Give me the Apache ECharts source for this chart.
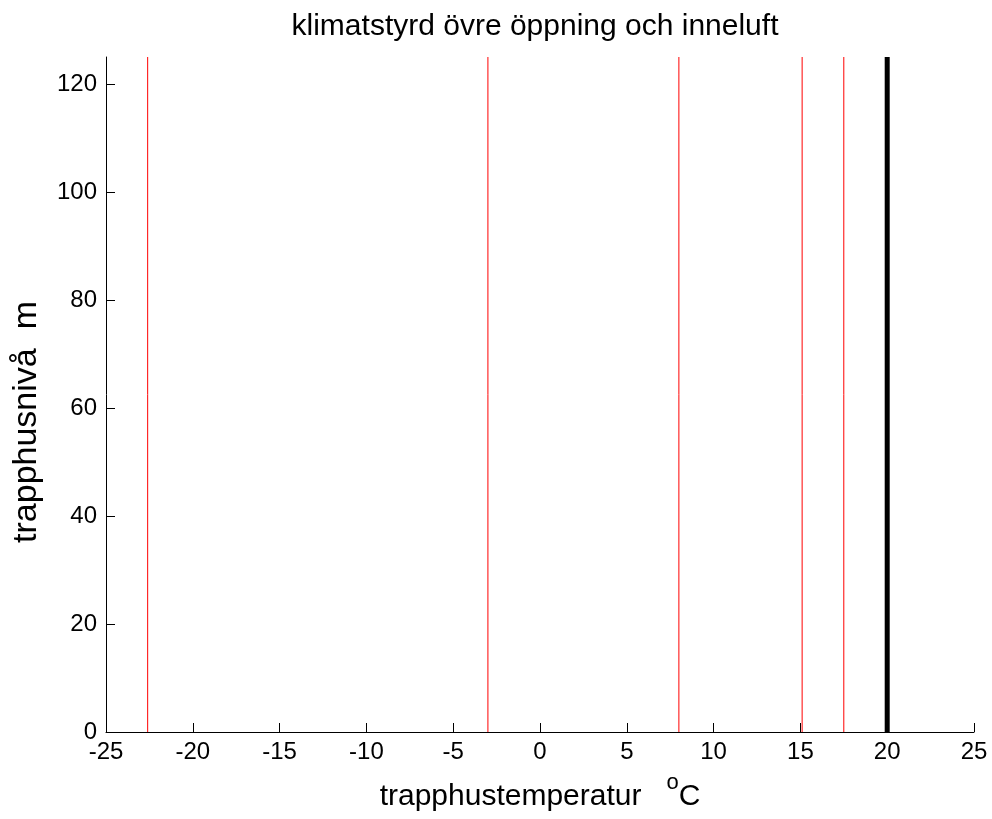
<!DOCTYPE html>
<html>
<head>
<meta charset="utf-8">
<script src="https://cdn.jsdelivr.net/npm/echarts@6/dist/echarts.min.js"></script>
<style>
html,body{margin:0;padding:0;background:#fff;}
#chart{width:992px;height:819px;}
</style>
</head>
<body>
<div id="chart"></div>
<script>
// Data
const redTemps = [-22.6, -3, 8, 15.1, 17.5];
const blackTemps = [20];
const levelRange = [0, 125];
const xTicks = [-25, -20, -15, -10, -5, 0, 5, 10, 15, 20, 25];
const yTicks = [0, 20, 40, 60, 80, 100, 120];

const FONT = '"Liberation Sans", Arial, Helvetica, sans-serif';

function vline(t, color, width) {
  return {
    type: 'line',
    data: levelRange.map(function (y) { return [t, y]; }),
    showSymbol: false,
    symbol: 'none',
    lineStyle: { color: color, width: width },
    silent: true,
    animation: false
  };
}

const series = [];
redTemps.forEach(function (t) { series.push(vline(t, '#ff0000', 1)); });
blackTemps.forEach(function (t) { series.push(vline(t, '#000000', 5)); });

const chart = echarts.init(document.getElementById('chart'), null, { renderer: 'canvas' });
chart.setOption({
  backgroundColor: '#ffffff',
  animation: false,
  title: {
    text: 'klimatstyrd övre öppning och inneluft',
    left: 530,
    textAlign: 'center',
    top: 7,
    textStyle: { fontFamily: FONT, fontSize: 30, fontWeight: 'normal', color: '#000' }
  },
  grid: { left: 106, right: 18, top: 57, bottom: 87, containLabel: false, outerBoundsMode: 'none' },
  xAxis: {
    type: 'value',
    min: -25, max: 25, interval: 5,
    name: '{t|trapphustemperatur   }{s|o}{t|C}',
    nameLocation: 'middle',
    nameGap: 40,
    nameTextStyle: {
      rich: {
        t: { fontFamily: FONT, fontSize: 30, color: '#000', verticalAlign: 'bottom', lineHeight: 30 },
        s: { fontFamily: FONT, fontSize: 22, color: '#000', verticalAlign: 'top', lineHeight: 40 }
      }
    },
    axisLine: { show: true, onZero: false, lineStyle: { color: '#000', width: 1 } },
    axisTick: { show: true, inside: true, length: 9, lineStyle: { color: '#000' }, customValues: xTicks },
    axisLabel: { fontFamily: FONT, fontSize: 24, color: '#000', margin: 8, customValues: xTicks },
    splitLine: { show: false }
  },
  yAxis: {
    type: 'value',
    min: 0, max: 125, interval: 20,
    name: 'trapphusnivå  m',
    nameLocation: 'middle',
    nameGap: 62,
    nameTextStyle: { fontFamily: FONT, fontSize: 34, color: '#000', padding: [0, 55, 0, 0] },
    axisLine: { show: true, onZero: false, lineStyle: { color: '#000', width: 1 } },
    axisTick: { show: true, inside: true, length: 9, lineStyle: { color: '#000' }, customValues: yTicks },
    axisLabel: { fontFamily: FONT, fontSize: 24, color: '#000', margin: 9, customValues: yTicks },
    splitLine: { show: false }
  },
  series: series
});
</script>
</body>
</html>
